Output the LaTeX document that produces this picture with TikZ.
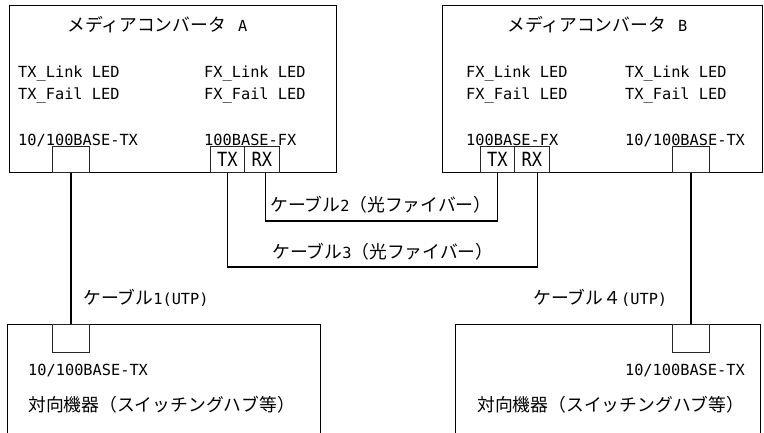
\documentclass[tikz,border=0pt]{standalone}
\usepackage{fontspec}
\usepackage{graphicx}
\setmainfont{DejaVu Sans Mono}
\newfontfamily\jpfont{Noto Sans CJK JP}
\newcommand{\jp}{\fontsize{17.8}{20}\selectfont\jpfont}
\begin{document}
\begin{tikzpicture}[x=1pt,y=-1pt,
  bigbox/.style={draw=black, line width=0.9pt, anchor=north west, inner sep=0pt},
  port/.style={draw=black!85, line width=0.8pt, anchor=north west, inner sep=0pt,
    minimum height=26pt, font=\fontsize{17}{20}\selectfont},
  lbl/.style={anchor=base west, inner sep=0pt, font=\fontsize{15.3}{18}\selectfont},
  cable/.style={line width=1.8pt, black}]
\useasboundingbox (0,0) rectangle (764,432);
\clip (0,0) rectangle (764,432);
% main boxes
\node[bigbox, minimum width=327pt, minimum height=167pt] (ma) at (9,5) {};
\node[bigbox, minimum width=320pt, minimum height=167pt] (mb) at (442,5) {};
\node[bigbox, minimum width=313pt, minimum height=115pt] (da) at (7,324) {};
\node[bigbox, minimum width=305pt, minimum height=115pt] (db) at (455,324) {};
% ports
\node[port, minimum width=37pt] (pa) at (52,146) {};
\node[port, minimum width=34pt] (txa) at (210,146) {\scalebox{1}[1.15]{TX}};
\node[port, minimum width=35pt] (rxa) at (244,146) {\scalebox{1}[1.15]{RX}};
\node[port, minimum width=34pt] (txb) at (480,146) {\scalebox{1}[1.15]{TX}};
\node[port, minimum width=35pt] (rxb) at (514,146) {\scalebox{1}[1.15]{RX}};
\node[port, minimum width=37pt] (pb) at (672,146) {};
\node[port, minimum width=37pt, minimum height=28pt] (pc) at (52,324) {};
\node[port, minimum width=37pt, minimum height=28pt] (pd) at (672,324) {};
% texts A
\node[lbl] (ta) at (67,31.5) {{\jp メディアコンバータ}\hspace{12pt}A};
\node[lbl] (a1) at (18,77) {TX\_Link LED};
\node[lbl] (a2) at (18,99) {TX\_Fail LED};
\node[lbl] (a3) at (204,77) {FX\_Link LED};
\node[lbl] (a4) at (204,99) {FX\_Fail LED};
\node[lbl] (a5) at (18,145.5) {10/100BASE-TX};
\node[lbl] (a6) at (204,145.5) {100BASE-FX};
% texts B
\node[lbl] (tb) at (507,31.5) {{\jp メディアコンバータ}\hspace{12pt}B};
\node[lbl] (b1) at (466,77) {FX\_Link LED};
\node[lbl] (b2) at (466,99) {FX\_Fail LED};
\node[lbl] (b3) at (625,77) {TX\_Link LED};
\node[lbl] (b4) at (625,99) {TX\_Fail LED};
\node[lbl] (b5) at (466,145.5) {100BASE-FX};
\node[lbl] (b6) at (625,145.5) {10/100BASE-TX};
% bottom texts
\node[lbl] (c1) at (28,375) {10/100BASE-TX};
\node[lbl] (c2) at (28,411) {\jp 対向機器（スイッチングハブ等）};
\node[lbl, anchor=base east] (d1) at (745,375) {10/100BASE-TX};
\node[lbl] (d2) at (477,411) {\jp 対向機器（スイッチングハブ等）};
% cable labels
\node[lbl] (k1) at (83,304) {{\jp ケーブル}1(UTP)};
\node[lbl] (k2) at (270,211) {{\jp ケーブル}2{\jp （光ファイバー）}};
\node[lbl] (k3) at (272,258) {{\jp ケーブル}3{\jp （光ファイバー）}};
\node[lbl] (k4) at (533,304) {{\jp ケーブル４}(UTP)};
% cables
\draw[cable] (pa.south) -- (pc.north);
\draw[cable] (pb.south) -- (pd.north);
\draw[cable] ([xshift=3.5pt]rxa.south) -- ++(0,48) -| (txb.south);
\draw[cable] (txa.south) -- ++(0,94) -| ([xshift=5.5pt]rxb.south);
\end{tikzpicture}
\end{document}
